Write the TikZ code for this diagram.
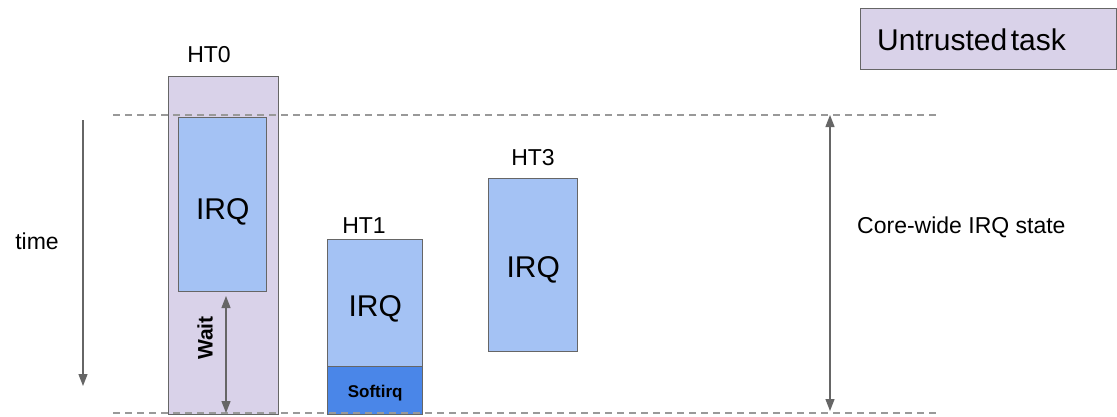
\documentclass[tikz,border=0pt]{standalone}
\usepackage{fontspec}
\setmainfont{Liberation Sans}
\usetikzlibrary{arrows.meta}
\definecolor{lav}{HTML}{D9D2E9}
\definecolor{lblue}{HTML}{A4C2F4}
\definecolor{dblue}{HTML}{4A86E8}
\definecolor{edgec}{HTML}{666666}
\definecolor{dashc}{HTML}{999999}
\begin{document}
\begin{tikzpicture}[x=1pt,y=-1pt,
  blk/.style={draw=edgec, line width=1.4pt, inner sep=0pt, anchor=north west},
  lbl/.style={inner sep=0pt, font=\fontsize{23}{26}\selectfont},
  irqtxt/.style={inner sep=0pt, font=\fontsize{30}{34}\selectfont},
  guide/.style={draw=dashc, line width=1.2pt, dash pattern=on 7pt off 5pt},
  arr/.style={draw=edgec, line width=1.3pt, -{Triangle[length=12pt,width=9pt]}},
  darr/.style={draw=edgec, line width=1.3pt, {Triangle[length=12pt,width=9pt]}-{Triangle[length=12pt,width=9pt]}}]
\useasboundingbox (0,0) rectangle (1117,416);
% boxes
\node[blk, fill=lav, minimum width=110pt, minimum height=338pt] (ht0) at (168,76) {};
\node[blk, fill=lblue, minimum width=88pt, minimum height=174pt] (irq0) at (178,117) {};
\node[blk, fill=lblue, minimum width=95pt, minimum height=127pt] (irq1) at (327,239) {};
\node[blk, fill=dblue, minimum width=95pt, minimum height=48pt] (soft) at (327,366) {};
\node[blk, fill=lblue, minimum width=89pt, minimum height=173pt] (irq3) at (488,178) {};
\node[blk, fill=lav, minimum width=256pt, minimum height=61pt] (untr) at (860,8) {};
% texts
\node[irqtxt] (t0) at ([yshift=-7pt]irq0.center) {IRQ};
\node[irqtxt] (t1) at ([yshift=-6pt]irq1.center) {IRQ};
\node[irqtxt] (t3) at ([yshift=-5pt]irq3.center) {IRQ};
\node[inner sep=0pt, font=\bfseries\fontsize{17}{20}\selectfont] (st) at ([yshift=-2pt]soft.center) {Softirq};
\node[lbl] (l0) at (209,55) {HT0};
\node[lbl] (l1) at (364,226) {HT1};
\node[lbl] (l3) at (533,158) {HT3};
\node[lbl] (time) at (37,241) {time};
\node[lbl, anchor=west] (core) at (857,227) {Core-wide IRQ state};
\node[inner sep=0pt, anchor=west, font=\fontsize{30}{34}\selectfont] (ut) at (877,40) {Untrusted\hspace{0.12em}task};
\node[inner sep=0pt, rotate=90, font=\bfseries\fontsize{21}{24}\selectfont] (wait) at (205,338) {Wait};
% guide lines
\coordinate (g1a) at (113,115); \coordinate (g1b) at (940,115);
\coordinate (g2a) at (113,413); \coordinate (g2b) at (940,413);
\draw[guide] (g1a) -- (g1b);
\draw[guide] (g2a) -- (g2b);
% arrows
\coordinate (ta) at (83,120); \coordinate (tb) at (83,386);
\draw[arr] (ta) -- (tb);
\coordinate (ca) at (830,115); \coordinate (cb) at (830,411);
\draw[darr] (ca) -- (cb);
\coordinate (wa) at (226,296); \coordinate (wb) at (226,413);
\draw[darr] (wa) -- (wb);
\end{tikzpicture}
\end{document}
